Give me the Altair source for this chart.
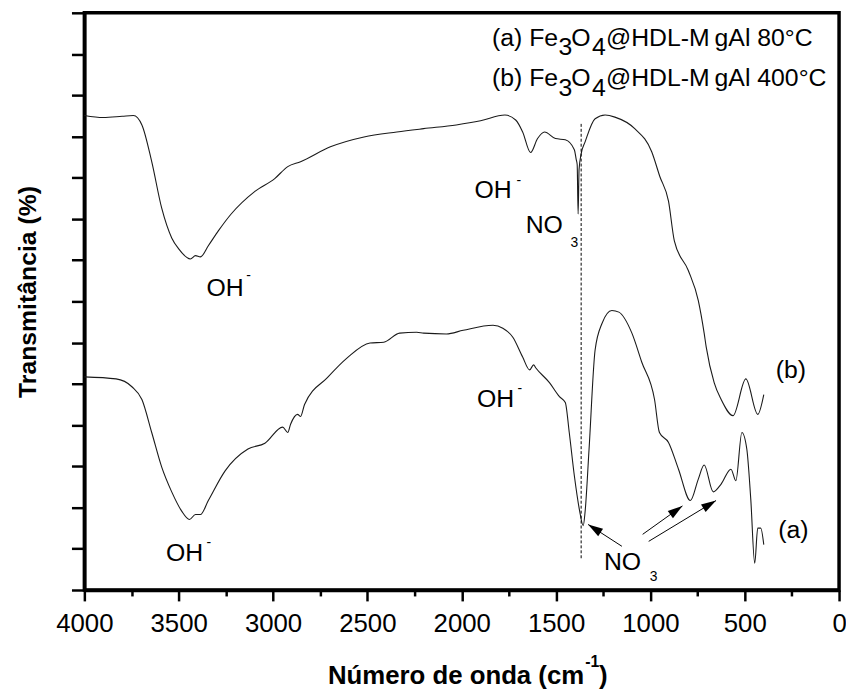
import math
import altair as alt
import pandas as pd

# ---------------- data ----------------
# curve (a) Fe3O4@HDL-MgAl 80°C  (lower trace)
wn_a = [4000, 3832, 3748, 3695, 3643, 3590, 3537, 3485, 3443, 3411, 3385, 3343, 3254, 3133,
        3043, 2949, 2922, 2907, 2870, 2854, 2833, 2712, 2607, 2486, 2413, 2329, 2239, 2202,
        2081, 1992, 1834, 1782, 1729, 1677, 1640, 1619, 1608, 1535, 1482, 1451, 1430, 1403,
        1377, 1356, 1346, 1325, 1293, 1256, 1204, 1167, 1098, 1046, 978, 952, 904, 851, 788,
        746, 715, 667, 625, 573, 547, 515, 489, 468, 447, 431, 415, 399]
t_a = [5.17, 5.12, 4.93, 4.62, 3.82, 2.98, 2.38, 1.92, 1.71, 1.83, 1.83, 2.17, 2.89, 3.42,
       3.56, 3.95, 3.82, 4.02, 4.26, 4.21, 4.50, 5.15, 5.63, 5.99, 6.01, 6.23, 6.25, 6.23,
       6.21, 6.30, 6.42, 6.35, 6.13, 5.65, 5.34, 5.46, 5.39, 5.03, 4.69, 4.55, 3.82, 2.77,
       1.97, 1.56, 1.90, 3.42, 5.82, 6.47, 6.78, 6.74, 6.23, 5.53, 4.62, 3.82, 3.58, 2.93, 2.17,
       2.69, 3.03, 2.38, 2.57, 2.93, 2.65, 3.82, 3.42, 2.21, 0.65, 1.50, 1.50, 1.10]

# curve (b) Fe3O4@HDL-MgAl 400°C  (upper trace)
wn_b = [4000, 3900, 3800, 3740, 3695, 3643, 3590, 3537, 3501, 3438, 3411, 3385, 3343, 3290,
        3222, 3096, 2991, 2922, 2854, 2696, 2518, 2344, 2202, 2029, 1900, 1771, 1714, 1677,
        1635, 1598, 1561, 1503, 1451, 1403, 1393, 1388, 1383, 1378, 1367, 1346, 1293, 1240,
        1188, 1083, 993, 950, 904, 873, 799, 746, 715, 704, 662, 625, 562, 494, 431, 399]
t_b = [11.51, 11.46, 11.49, 11.51, 11.28, 10.39, 9.26, 8.54, 8.28, 8.03, 8.11, 8.08, 8.35, 8.71,
       9.12, 9.67, 9.98, 10.27, 10.39, 10.75, 10.99, 11.11, 11.19, 11.28, 11.38, 11.52, 11.40, 11.11,
       10.61, 10.95, 11.11, 10.95, 10.92, 10.68, 10.44, 10.32, 9.12, 10.20, 10.58, 10.87, 11.43, 11.52,
       11.47, 11.19, 10.63, 10.03, 9.43, 8.47, 7.75, 7.02, 6.23, 5.89, 5.03, 4.62, 4.23, 5.12, 4.26, 4.74]

x_tick_values = list(range(4000, -1, -250))
y_tick_values = [i / 2 for i in range(29)]

# band labels (wavenumber, transmittance units)
oh_wn = [3254, 1834, 3469, 1821]
oh_t = [7.14, 9.50, 0.70, 4.43]
ohsup_wn = [3130, 1698, 3340, 1692]
ohsup_t = [7.51, 9.82, 1.04, 4.79]
no_wn = [1661, 1246]
no_t = [8.66, 0.48]
nosub_wn = [1424, 1004]
nosub_t = [8.32, 0.22]
curve_tag = ["(b)", "(a)"]
curve_tag_wn = [255, 242]
curve_tag_t = [5.15, 1.25]

# dotted marker line at the nitrate band
dash_wn = [1367]
dash_t1 = [0.77]
dash_t2 = [11.31]

# arrows from the lower NO3 label to the nitrate bands
arr_tail_wn = [1151, 1041, 1009]
arr_tail_t = [1.06, 1.35, 1.18]
arr_head_wn = [1330, 830, 652]
arr_head_t = [1.59, 2.04, 2.17]

# ---------------- chart ----------------
W, H = 761, 582
X_DOM = [4000, 0]
Y_DOM = [0, 14]
FONT = "Liberation Sans"
INK = "#1a1a1a"

xs = alt.Scale(domain=X_DOM, nice=False, zero=False)
ys = alt.Scale(domain=Y_DOM, nice=False, zero=False)

x_axis = alt.Axis(
    values=x_tick_values,
    labelExpr="datum.value % 500 == 0 ? format(datum.value, 'd') : ''",
    tickSize={"condition": {"test": "datum.value % 500 == 0", "value": 11}, "value": 6},
    tickWidth=2.5, tickColor="black", domainWidth=3.5, domainColor="black",
    labelFont=FONT, labelFontSize=26, labelColor="black", labelPadding=10,
    labelFlush=False, labelOverlap=False, grid=False, title=None,
)
y_axis = alt.Axis(
    values=y_tick_values, labels=False,
    tickSize={"condition": {"test": "datum.value % 1 == 0", "value": 13}, "value": 8},
    tickWidth=2.5, tickColor="black", domainWidth=3.5, domainColor="black",
    grid=False, title=None,
)

df = pd.concat([
    pd.DataFrame({"wn": wn_a, "t": t_a, "s": "a", "i": range(len(wn_a))}),
    pd.DataFrame({"wn": wn_b, "t": t_b, "s": "b", "i": range(len(wn_b))}),
])

lines = alt.Chart(df).mark_line(color=INK, strokeWidth=1.1, interpolate="monotone").encode(
    x=alt.X("wn:Q", scale=xs, axis=x_axis),
    y=alt.Y("t:Q", scale=ys, axis=y_axis),
    detail="s:N",
    order="i:Q",
)

dash = alt.Chart(pd.DataFrame({"wn": dash_wn, "t1": dash_t1, "t2": dash_t2})).mark_rule(
    color="black", strokeWidth=1, strokeDash=[3, 2]
).encode(x=alt.X("wn:Q", scale=xs), y=alt.Y("t1:Q", scale=ys), y2="t2:Q")

# arrows
angles = []
for tw, tt, hw, ht in zip(arr_tail_wn, arr_tail_t, arr_head_wn, arr_head_t):
    dx = -(hw - tw) * W / (X_DOM[0] - X_DOM[1])
    dy = -(ht - tt) * H / (Y_DOM[1] - Y_DOM[0])
    angles.append(math.degrees(math.atan2(dx, -dy)) % 360)
arr_df = pd.DataFrame({"tw": arr_tail_wn, "tt": arr_tail_t, "hw": arr_head_wn,
                       "ht": arr_head_t, "ang": angles})
shafts = alt.Chart(arr_df).mark_rule(color="black", strokeWidth=1).encode(
    x=alt.X("tw:Q", scale=xs), y=alt.Y("tt:Q", scale=ys), x2="hw:Q", y2="ht:Q")
heads = alt.Chart(arr_df).mark_point(
    shape="M0,0L-0.3,1L0.3,1Z", filled=True, color="black", opacity=1, size=900, strokeWidth=0
).encode(x=alt.X("hw:Q", scale=xs), y=alt.Y("ht:Q", scale=ys),
         angle=alt.Angle("ang:Q", scale=None))


def data_text(texts, wns, ts, size, align="center", weight="normal"):
    d = pd.DataFrame({"txt": texts, "wn": wns, "t": ts})
    return alt.Chart(d).mark_text(
        font=FONT, fontSize=size, align=align, baseline="alphabetic",
        color="black", fontWeight=weight
    ).encode(x=alt.X("wn:Q", scale=xs), y=alt.Y("t:Q", scale=ys), text="txt:N")


oh_lab = data_text(["OH"] * 4, oh_wn, oh_t, 25)
oh_sup = data_text(["-"] * 4, ohsup_wn, ohsup_t, 14)
no_lab = data_text(["NO"] * 2, no_wn, no_t, 25, align="left")
no_sub = data_text(["3"] * 2, nosub_wn, nosub_t, 14, align="left")
tags = data_text(curve_tag, curve_tag_wn, curve_tag_t, 25)


def px_text(txt, px, py, size, align="left", weight="normal", angle=None):
    kw = dict(font=FONT, fontSize=size, align=align, baseline="alphabetic",
              color="black", fontWeight=weight)
    if angle is not None:
        kw["angle"] = angle
    return alt.Chart(pd.DataFrame({"txt": [txt]})).mark_text(**kw).encode(
        x=alt.value(px), y=alt.value(py), text="txt:N")


LEG = 25
legend = [
    px_text("(a) Fe", 411, 33, LEG), px_text("3", 478, 43, LEG), px_text("O", 491, 33, LEG),
    px_text("4", 512, 43, LEG), px_text("@HDL-M\u2009gAl 80°C", 526, 33, LEG),
    px_text("(b) Fe", 411, 74, LEG), px_text("3", 478, 84, LEG), px_text("O", 491, 74, LEG),
    px_text("4", 512, 84, LEG), px_text("@HDL-M\u2009gAl 400°C", 526, 74, LEG),
]
titles = [
    px_text("Transmitância (%)", -49, 281.5, 25, align="center", weight="bold", angle=270),
    px_text("Número de onda (cm", 504, 677, 26, align="right", weight="bold"),
    px_text("-1", 505, 660, 16, weight="bold"),
    px_text(")", 519, 677, 26, weight="bold"),
]

chart = alt.layer(
    lines, dash, shafts, heads, oh_lab, oh_sup, no_lab, no_sub, tags, *legend, *titles
).properties(
    width=W, height=H,
    autosize=alt.AutoSizeParams(type="none"),
    padding={"left": 77, "top": 2, "right": 7, "bottom": 100},
    background="white",
).configure_view(stroke="black", strokeWidth=3.5)

chart.save("out.html", embed_options={"renderer": "svg", "actions": False})
